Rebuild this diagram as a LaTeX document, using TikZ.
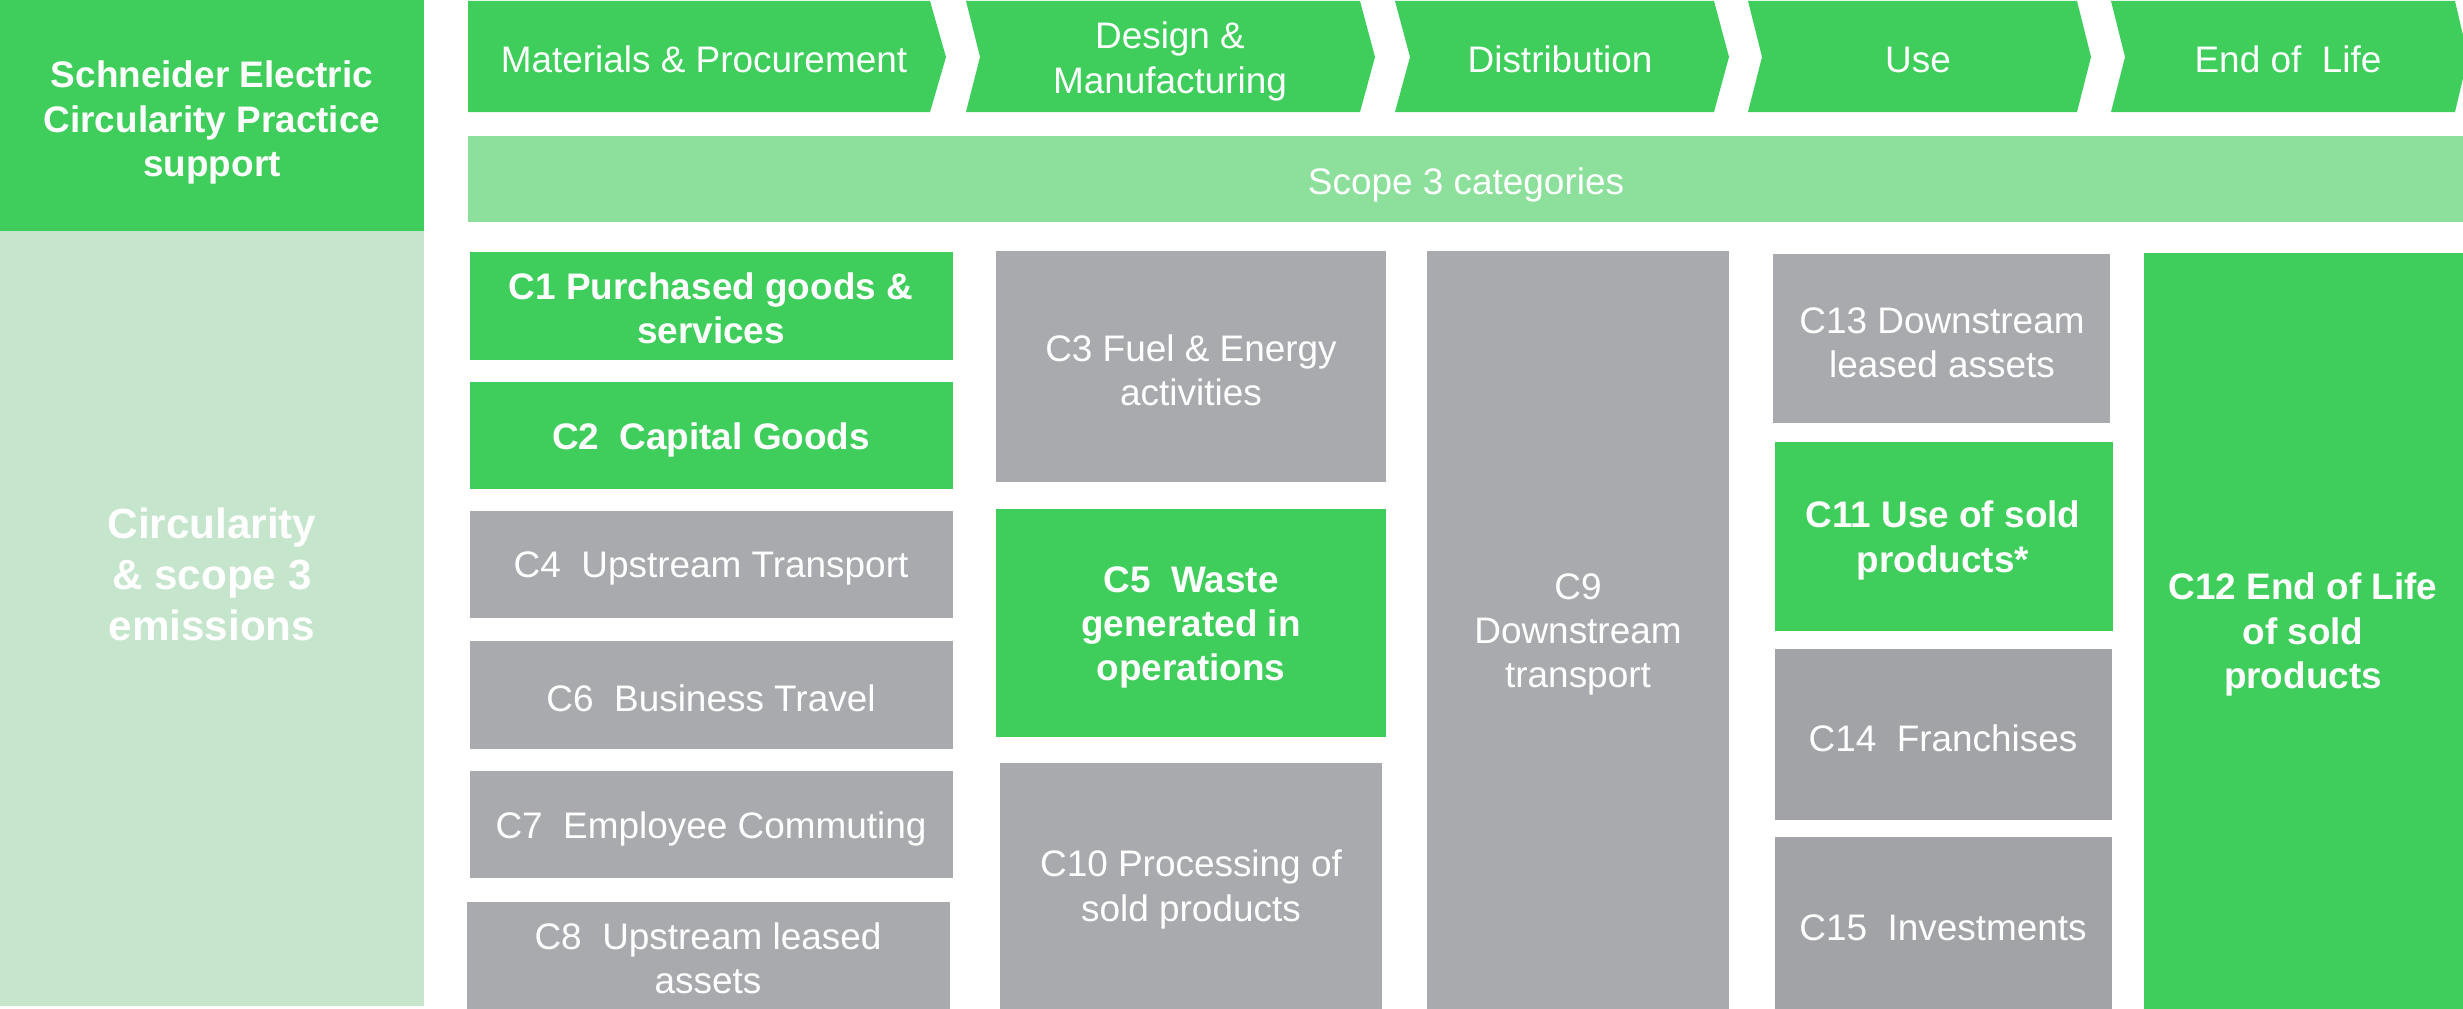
\documentclass[tikz,border=0pt]{standalone}
\usepackage{fontspec}
\setmainfont{Liberation Sans}
\definecolor{segreen}{HTML}{3FCE5B}
\definecolor{scopegreen}{HTML}{8DE09C}
\definecolor{palegreen}{HTML}{C5E5CC}
\definecolor{boxgrey}{HTML}{A9AAAD}
\definecolor{darkgrey}{HTML}{A2A3A6}

\begin{document}
\begin{tikzpicture}[x=0.01cm, y=-0.01cm,
  lab/.style={text=white, align=center, yshift=-1pt, font=\fontsize{10.5}{12.6}\selectfont},
  blab/.style={lab, font=\fontsize{10.5}{12.6}\selectfont\bfseries}]
\useasboundingbox (0,0) rectangle (2463,1009);

% left side
\fill[segreen] (0,0) rectangle (424,231);
\fill[palegreen] (0,231) rectangle (424,1006);
\node[blab] (support) at (212,119) {Schneider Electric\\Circularity Practice\\support};
\node[text=white, align=center, font=\fontsize{12}{14.5}\selectfont\bfseries] (circ) at (212,574) {Circularity\\\& scope 3\\emissions};

% value chain
\fill[segreen] (468,1)--(930,1)--(946,57)--(930,112)--(468,112)--cycle;
\fill[segreen] (966,1)--(1360,1)--(1375,57)--(1360,112)--(966,112)--(980,57)--cycle;
\fill[segreen] (1395,1)--(1714,1)--(1729,57)--(1714,112)--(1395,112)--(1410,57)--cycle;
\fill[segreen] (1748,1)--(2077,1)--(2091,57)--(2077,112)--(1748,112)--(1762,57)--cycle;
\fill[segreen] (2111,1)--(2455,1)--(2468,57)--(2455,112)--(2111,112)--(2125,57)--cycle;
\node[lab] (mat) at (704,56) {Materials \& Procurement};
\node[lab, font=\fontsize{10.5}{12.8}\selectfont] (design) at (1170,58) {Design \&\\Manufacturing};
\node[lab] (dist) at (1560,56) {Distribution};
\node[lab] (use) at (1918,56) {Use};
\node[lab] (eol) at (2288,56) {End of\ \ Life};

\fill[scopegreen] (468,136) rectangle (2463,222);
\node[lab] (scope) at (1466,181) {Scope 3 categories};

% column 1
\fill[segreen] (470,252) rectangle (953,360);
\fill[segreen] (470,382) rectangle (953,489);
\fill[boxgrey] (470,511) rectangle (953,618);
\fill[boxgrey] (470,641) rectangle (953,749);
\fill[boxgrey] (470,771) rectangle (953,878);
\fill[boxgrey] (467,902) rectangle (950,1009);
\node[blab] (c1) at (711,305) {C1 Purchased goods \&\\services};
\node[blab] (c2) at (711,436) {C2\ \ Capital Goods};
\node[lab] (c4) at (711,565) {C4\ \ Upstream Transport};
\node[lab] (c6) at (711,695) {C6\ \ Business Travel};
\node[lab] (c7) at (711,825) {C7\ \ Employee Commuting};
\node[lab] (c8) at (708,955) {C8\ \ Upstream leased\\assets};

% column 2
\fill[boxgrey] (996,251) rectangle (1386,482);
\fill[segreen] (996,509) rectangle (1386,737);
\fill[boxgrey] (1000,763) rectangle (1382,1009);
\node[lab] (c3) at (1191,367) {C3 Fuel \& Energy\\activities};
\node[blab] (c5) at (1191,624) {C5\ \ Waste\\generated in\\operations};
\node[lab] (c10) at (1191,886) {C10 Processing of\\sold products};

% column 3
\fill[boxgrey] (1427,251) rectangle (1729,1009);
\node[lab] (c9) at (1578,631) {C9\\Downstream\\transport};

% column 4
\fill[boxgrey] (1773,254) rectangle (2110,423);
\fill[segreen] (1775,442) rectangle (2113,631);
\fill[darkgrey] (1775,649) rectangle (2112,820);
\fill[darkgrey] (1775,837) rectangle (2112,1009);
\node[lab] (c13) at (1942,339) {C13 Downstream\\leased assets};
\node[blab] (c11) at (1943,537) {C11 Use of sold\\products*};
\node[lab] (c14) at (1943,735) {C14\ \ Franchises};
\node[lab] (c15) at (1943,924) {C15\ \ Investments};

% column 5
\fill[segreen] (2144,253) rectangle (2463,1009);
\node[blab] (c12) at (2303,631) {C12 End of Life\\of sold\\products};
\end{tikzpicture}
\end{document}
